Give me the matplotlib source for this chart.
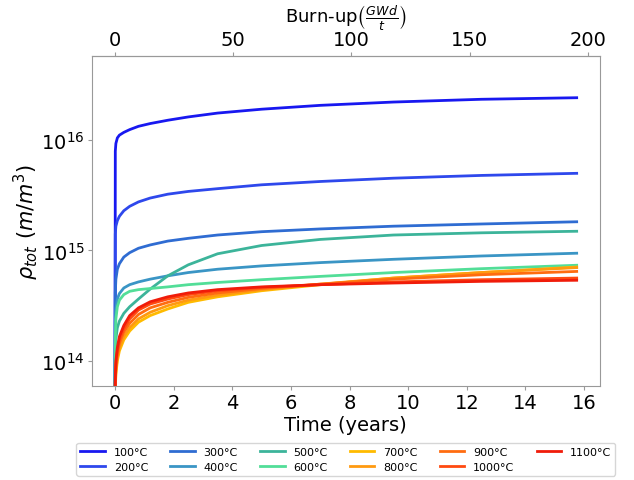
import numpy as np
import matplotlib
matplotlib.use('Agg')
import matplotlib.pyplot as plt
from matplotlib.ticker import NullLocator

# time in years
t = [0, 0.01, 0.03, 0.08, 0.15, 0.3, 0.5, 0.8, 1.2, 1.8, 2.5, 3.5, 5, 7, 9.5, 12.5, 15.75]

# log10 of total dislocation density
rho_100 = [13.6, 15.90, 15.97, 16.02, 16.045, 16.07, 16.095, 16.125, 16.15, 16.18, 16.21, 16.245, 16.28, 16.315, 16.345, 16.37, 16.384]
rho_200 = [13.6, 15.15, 15.22, 15.27, 15.31, 15.36, 15.40, 15.44, 15.475, 15.51, 15.535, 15.56, 15.595, 15.625, 15.655, 15.68, 15.699]
rho_300 = [13.6, 14.62, 14.74, 14.83, 14.88, 14.94, 14.98, 15.02, 15.05, 15.085, 15.11, 15.14, 15.17, 15.195, 15.22, 15.24, 15.26]
rho_400 = [13.6, 14.35, 14.47, 14.56, 14.61, 14.66, 14.69, 14.715, 14.74, 14.77, 14.80, 14.83, 14.86, 14.89, 14.92, 14.95, 14.975]
rho_500 = [13.6, 14.05, 14.20, 14.30, 14.36, 14.43, 14.49, 14.56, 14.65, 14.77, 14.87, 14.97, 15.045, 15.10, 15.14, 15.16, 15.174]
rho_600 = [13.6, 14.20, 14.38, 14.49, 14.55, 14.60, 14.63, 14.645, 14.655, 14.67, 14.69, 14.71, 14.735, 14.765, 14.80, 14.835, 14.866]
rho_700 = [13.6, 13.75, 13.88, 14.00, 14.09, 14.19, 14.27, 14.35, 14.41, 14.47, 14.53, 14.58, 14.635, 14.69, 14.75, 14.80, 14.85]
rho_800 = [13.6, 13.77, 13.91, 14.03, 14.12, 14.22, 14.30, 14.38, 14.44, 14.50, 14.55, 14.595, 14.645, 14.695, 14.75, 14.80, 14.845]
rho_900 = [13.6, 13.80, 13.94, 14.06, 14.16, 14.26, 14.34, 14.42, 14.48, 14.53, 14.575, 14.615, 14.655, 14.695, 14.74, 14.78, 14.81]
rho_1000 = [13.6, 13.82, 13.97, 14.09, 14.19, 14.29, 14.38, 14.46, 14.515, 14.56, 14.60, 14.635, 14.665, 14.69, 14.715, 14.735, 14.75]
rho_1100 = [13.6, 13.85, 14.00, 14.12, 14.22, 14.32, 14.41, 14.48, 14.535, 14.58, 14.615, 14.645, 14.67, 14.69, 14.705, 14.72, 14.73]

temps = ['100°C', '200°C', '300°C', '400°C', '500°C', '600°C',
         '700°C', '800°C', '900°C', '1000°C', '1100°C']
series = [rho_100, rho_200, rho_300, rho_400, rho_500, rho_600,
          rho_700, rho_800, rho_900, rho_1000, rho_1100]
colors = ['#1818f0', '#2e48ec', '#2f6cd2', '#3a95c5', '#3cb49a', '#52de98',
          '#ffbb00', '#ff9a10', '#ff6c10', '#ff4a10', '#f01c0a']

# burn-up per year
burnup_rate = 12.4

fig = plt.figure(figsize=(6.34, 4.81), dpi=100)
ax = fig.add_axes([0.145, 0.195, 0.801, 0.686])

for name, vals, c in zip(temps, series, colors):
    ax.plot(t, 10 ** np.array(vals), color=c, lw=2, label=name)

ax.set_yscale('log')
ax.set_ylim(10 ** 13.77, 10 ** 16.76)
ax.yaxis.set_minor_locator(NullLocator())
ax.set_xticks([0, 2, 4, 6, 8, 10, 12, 14, 16])
ax.tick_params(labelsize=14, color='#999999', length=3, pad=2)
for s in ax.spines.values():
    s.set_color('#999999')

ax.set_xlabel('Time (years)', fontsize=14, labelpad=2)
ax.set_ylabel(r'$\rho_{tot}\ (m/m^3)$', fontsize=15, labelpad=0)

top = ax.secondary_xaxis('top', functions=(lambda x: x * burnup_rate,
                                            lambda b: b / burnup_rate))
top.set_xticks([0, 50, 100, 150, 200])
top.tick_params(labelsize=14, color='#999999', length=3, pad=2)
top.spines['top'].set_color('#999999')
top.set_xlabel(r'Burn-up$\left(\frac{GWd}{t}\right)$', fontsize=13, labelpad=6)

ax.legend(loc='upper center', bbox_to_anchor=(0.5, -0.155), ncol=6,
          fontsize=8, handlelength=2.2, columnspacing=2.0, labelspacing=0.45,
          borderpad=0.35)

plt.savefig('out.png', dpi=100)
